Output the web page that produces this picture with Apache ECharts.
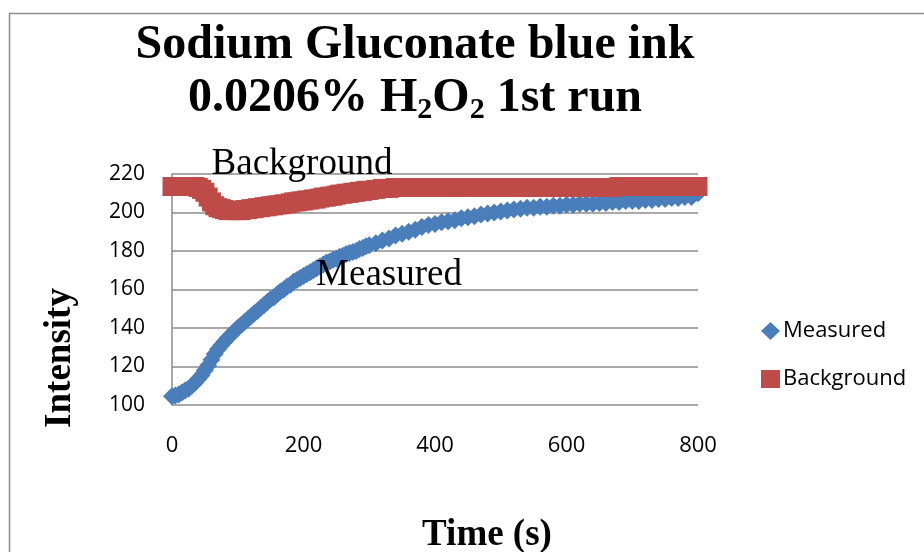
<!DOCTYPE html>
<html>
<head>
<meta charset="utf-8">
<script src="https://cdn.jsdelivr.net/npm/echarts@6/dist/echarts.min.js"></script>
<style>
html,body{margin:0;padding:0;background:#fff;}
#chart{width:924px;height:552px;}
</style>
</head>
<body>
<div id="chart"></div>
<script>
// time (s): every 5 s up to 300, then every 10 s
var timeData = [0,5,10,15,20,25,30,35,40,45,50,55,60,65,70,75,80,85,90,95,100,
    105,110,115,120,125,130,135,140,145,150,155,160,165,170,175,180,185,190,195,200,
    205,210,215,220,225,230,235,240,245,250,255,260,265,270,275,280,285,290,295,300,
    310,320,330,340,350,360,370,380,390,400,410,420,430,440,450,460,470,480,490,500,
    510,520,530,540,550,560,570,580,590,600,610,620,630,640,650,660,670,680,690,700,
    710,720,730,740,750,760,770,780,790,800];

var measuredData = [104.5,105,105.5,106.5,107.5,108.5,110,111.5,113.5,115.5,118,
    120.5,123.5,126.5,129,131,133,135,136.5,138.5,140,
    141.5,143,144.5,146,147.5,149,150.5,152,153.5,155,
    156,157.5,159,160,161.5,162.5,164,165,166,167,
    168,169,170,171,172,173,174,174.5,175.5,176,
    177,177.5,178.5,179,179.5,180,181,181.5,182.5,183,
    184,185.5,186.5,188,189,190,191,192.5,193.5,194,
    195,195.5,196,197,197.5,198,199,199.5,200,200.5,
    201,201.5,202,202.5,202.5,203,203,203.5,203.5,204,
    204,204.5,204.5,204.5,205,205,205.5,205.5,206,206,
    206,206.5,206.5,207,207,207.5,207.5,208,208,210];

var backgroundData = [213.5,213.5,213.5,213.5,213.5,213.5,213.5,213.5,213,212,210.5,
    208,205.5,203.5,202.5,202,201.5,201,201,201,201,
    201,201.5,201.5,202,202,202.5,202.5,203,203,203.5,
    203.5,204,204,204.5,204.5,205,205.5,205.5,206,206,
    206.5,206.5,207,207,207.5,208,208,208.5,208.5,209,
    209.5,209.5,210,210,210.5,210.5,211,211,211.5,211.5,
    212,212.5,212.5,213,213,213,213,213,213,213,
    213,213,213,213,213,213,213,213,213,213,
    213,213,213,213,213,213,213,213,213,213,
    213,213,213,213,213,213,213,213.5,213.5,213.5,
    213.5,213.5,213.5,213.5,213.5,213.5,213.5,213.5,213.5,213.5];

var xTicks = [0,800,200];    // min, max, interval
var yTicks = [100,220,20];

function pairs(xs, ys){
    var out = [];
    for (var i = 0; i < xs.length; i++) out.push([xs[i], ys[i]]);
    return out;
}

var chart = echarts.init(document.getElementById('chart'));
var serif = '"Liberation Serif","Times New Roman",serif';
var sans = '"Open Sans","Noto Sans",sans-serif';

var option = {
    animation: false,
    title: {
        left: 410,
        textAlign: 'center',
        top: 14,
        text: '{m|Sodium Gluconate blue ink}\n{m|0.0206% H}{s|2}{m|O}{s|2}{m| 1st run}',
        textStyle: {
            rich: {
                m: {fontFamily: serif, fontWeight: 'bold', fontSize: 48, color: '#000', lineHeight: 53},
                s: {fontFamily: serif, fontWeight: 'bold', fontSize: 30, color: '#000', lineHeight: 53,
                    verticalAlign: 'bottom', padding: [24, 0, 0, 0]}
            }
        }
    },
    legend: {
        orient: 'vertical',
        left: 756,
        top: 315,
        itemGap: 26,
        itemWidth: 19,
        itemHeight: 18,
        textStyle: {fontFamily: sans, fontSize: 22, color: '#000', padding: [0, 0, 0, -2]},
        data: [
            {name: 'Measured', icon: 'diamond'},
            {name: 'Background', icon: 'rect'}
        ]
    },
    grid: {left: 172, right: 226, top: 174, bottom: 147},
    xAxis: {
        type: 'value',
        min: xTicks[0], max: xTicks[1], interval: xTicks[2],
        axisLine: {show: false},
        axisTick: {show: false},
        splitLine: {show: false},
        axisLabel: {fontFamily: sans, fontSize: 22, color: '#000', margin: 30}
    },
    yAxis: {
        type: 'value',
        min: yTicks[0], max: yTicks[1], interval: yTicks[2],
        axisLine: {show: true, lineStyle: {color: '#8c8c8c', width: 1.5}},
        axisTick: {show: false},
        splitLine: {lineStyle: {color: '#8c8c8c', width: 1.5}},
        axisLabel: {fontFamily: sans, fontSize: 21, color: '#000', margin: 27}
    },
    graphic: [
        {type: 'rect', left: 7, top: 11, shape: {width: 1000, height: 1000},
            style: {fill: 'none', stroke: '#8c8c8c', lineWidth: 1.5}, silent: true},
        {type: 'text', x: 60, y: 358, rotation: Math.PI / 2,
            style: {text: 'Intensity', fontFamily: serif, fontWeight: 'bold', fontSize: 37,
                fill: '#000', align: 'center', verticalAlign: 'middle'}},
        {type: 'text', x: 487, y: 535,
            style: {text: 'Time (s)', fontFamily: serif, fontWeight: 'bold', fontSize: 37,
                fill: '#000', align: 'center', verticalAlign: 'middle'}},
        {type: 'text', x: 302, y: 164, z: 10,
            style: {text: 'Background', fontFamily: serif, fontSize: 37,
                fill: '#000', align: 'center', verticalAlign: 'middle'}},
        {type: 'text', x: 389, y: 275, z: 10,
            style: {text: 'Measured', fontFamily: serif, fontSize: 37,
                fill: '#000', align: 'center', verticalAlign: 'middle'}}
    ],
    series: [
        {
            name: 'Measured',
            type: 'scatter',
            symbol: 'diamond',
            symbolSize: 18,
            clip: false,
            itemStyle: {color: '#4a7ebb', opacity: 1},
            data: pairs(timeData, measuredData)
        },
        {
            name: 'Background',
            type: 'scatter',
            symbol: 'rect',
            symbolSize: 19,
            clip: false,
            itemStyle: {color: '#be4b48', opacity: 1},
            data: pairs(timeData, backgroundData)
        }
    ]
};
chart.setOption(option);
</script>
</body>
</html>
